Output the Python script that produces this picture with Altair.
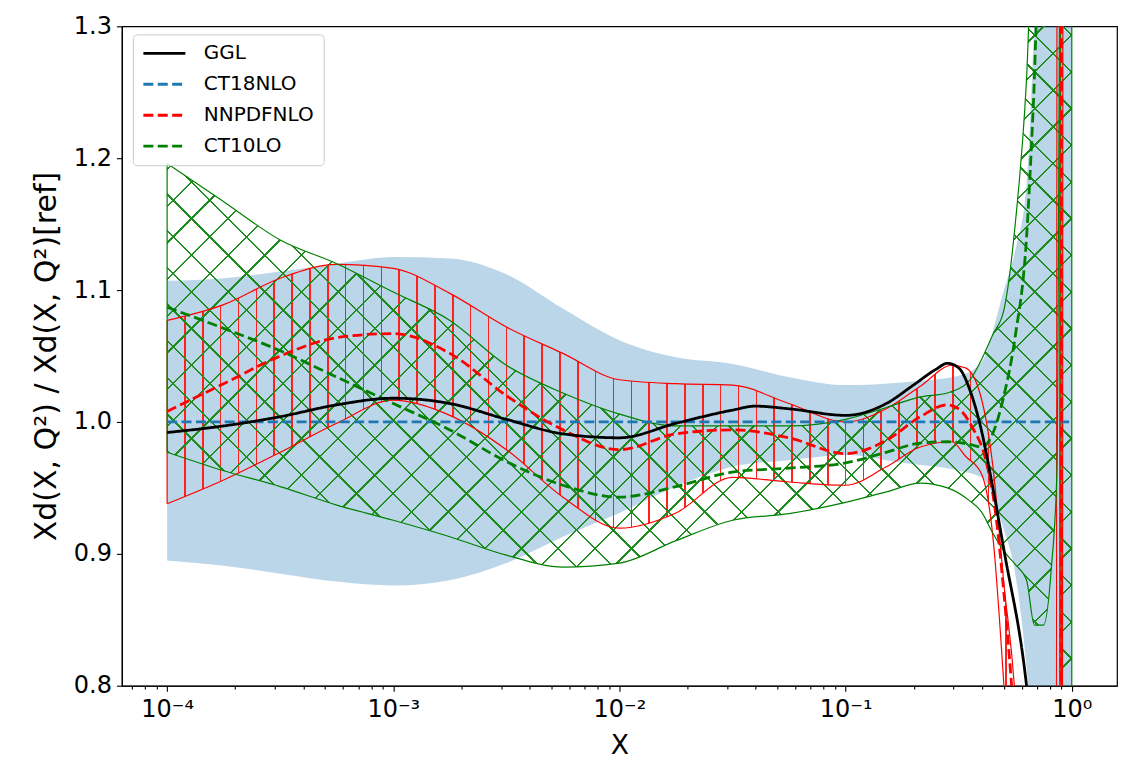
import altair as alt
import pandas as pd

# ---------------- values (x given as log10 X) ----------------
# CT18NLO uncertainty band (blue fill)
blue_lx = [-4, -3.75, -3.5, -3.25, -3, -2.75, -2.5, -2.25, -2, -1.75, -1.5, -1.25, -1,
           -0.75, -0.5, -0.4, -0.3, -0.25, -0.2, -0.15, -0.1, 0]
blue_up = [1.107, 1.109, 1.114, 1.120, 1.125, 1.124, 1.112, 1.086, 1.062, 1.049, 1.044, 1.034, 1.028,
           1.030, 1.035, 1.045, 1.10, 1.13, 1.18, 1.35, 1.40, 1.40]
blue_lo = [0.895, 0.891, 0.885, 0.879, 0.876, 0.880, 0.893, 0.913, 0.931, 0.951, 0.966, 0.971, 0.975,
           0.969, 0.963, 0.958, 0.918, 0.885, 0.814, 0.70, 0.70, 0.70]

# NNPDFNLO band (red, vertical hatch)
red_lx = [-4, -3.75, -3.5, -3.25, -3, -2.75, -2.5, -2.25, -2, -1.75, -1.5, -1.25, -1,
          -0.82, -0.67, -0.53, -0.47, -0.4, -0.35, -0.3, -0.25, -0.2, -0.1, -0.07, -0.058, -0.045, -0.033, 0]
red_up = [1.077, 1.089, 1.109, 1.1195, 1.1165, 1.0975, 1.072, 1.052, 1.032, 1.029, 1.028, 1.014, 1.000,
          1.010, 1.027, 1.043, 1.041, 1.018, 0.968, 0.877, 0.79, 0.6, 0.5, 0.5, 3.0, 3.0, 3.0, 3.0]
red_lo = [0.938, 0.956, 0.977, 0.999, 1.0165, 1.005, 0.979, 0.943, 0.9195, 0.931, 0.958, 0.9545, 0.952,
          0.966, 0.981, 0.985, 0.974, 0.961, 0.915, 0.80, 0.65, 0.5, 0.3, 0.2, 0.1, 0.0, 2.9, 2.9]

# CT10LO band (green, cross hatch)
ct10_lx = [-4, -3.75, -3.5, -3.25, -3, -2.75, -2.5, -2.25, -2, -1.75, -1.5, -1.25, -1,
           -0.82, -0.67, -0.55, -0.45, -0.4, -0.35, -0.3, -0.25, -0.2, -0.165, -0.125, -0.09, -0.065,
           -0.05, -0.045, 0]
ct10_up = [1.196, 1.167, 1.138, 1.120, 1.0985, 1.077, 1.043, 1.022, 1.006, 0.997, 0.997, 0.997, 1.002,
           1.011, 1.019, 1.022, 1.032, 1.047, 1.066, 1.085, 1.15, 1.26, 1.40, 1.40, 1.40, 1.40,
           1.40, 1.40, 1.40]
ct10_lo = [0.977, 0.963, 0.951, 0.937, 0.9255, 0.913, 0.899, 0.890, 0.893, 0.910, 0.9255, 0.9305, 0.939,
           0.947, 0.9536, 0.950, 0.940, 0.932, 0.916, 0.902, 0.892, 0.880, 0.846, 0.846, 0.890, 0.966,
           1.40, 0.714, 0.714]

# central curves
ggl_lx = [-4, -3.75, -3.5, -3.25, -3, -2.75, -2.5, -2.25, -2, -1.75, -1.5, -1.4, -1.25, -1,
          -0.82, -0.7, -0.6, -0.55, -0.5, -0.45, -0.4, -0.35, -0.3, -0.2, -0.1, 0]
ggl_y = [0.992, 0.997, 1.004, 1.013, 1.018, 1.014, 1.002, 0.991, 0.988, 0.999, 1.009, 1.012, 1.010, 1.005,
         1.014, 1.028, 1.040, 1.0445, 1.041, 1.024, 0.994, 0.951, 0.903, 0.80, 0.6, 0.5]

ct18_lx = [-4, 0]
ct18_y = [1.0, 1.0]

nn_lx = [-4, -3.75, -3.5, -3.25, -3, -2.75, -2.5, -2.25, -2, -1.75, -1.5, -1.25, -1,
         -0.82, -0.67, -0.55, -0.5, -0.44, -0.38, -0.34, -0.3, -0.25, -0.2, -0.1, -0.05, -0.04, 0]
nn_y = [1.008, 1.029, 1.050, 1.064, 1.067, 1.052, 1.020, 0.994, 0.979, 0.991, 0.994, 0.988, 0.976,
        0.986, 1.004, 1.013, 1.010, 0.996, 0.971, 0.935, 0.87, 0.76, 0.6, 0.4, 0.2, 3.0, 3.0]

ct10c_lx = [-4, -3.75, -3.5, -3.25, -3, -2.75, -2.5, -2.25, -2, -1.75, -1.5, -1.25, -1,
            -0.82, -0.67, -0.55, -0.45, -0.4, -0.35, -0.3, -0.25, -0.2, -0.17, -0.15, 0]
ct10c_y = [1.087, 1.071, 1.054, 1.034, 1.014, 0.994, 0.970, 0.952, 0.943, 0.951, 0.962, 0.965, 0.969,
           0.977, 0.984, 0.985, 0.983, 0.981, 0.991, 1.02, 1.065, 1.14, 1.24, 1.32, 1.35]

series_names = ["GGL", "CT18NLO", "NNPDFNLO", "CT10LO"]
series_colors = ["#000000", "#1f77b4", "#ff0000", "#008000"]
series_dash = [[1, 0], [10, 4.4], [10, 4.4], [10, 4.4]]

x_major = [1e-4, 1e-3, 1e-2, 1e-1, 1.0]
y_ticks = [0.8, 0.9, 1.0, 1.1, 1.2, 1.3]

# ---------------- frames ----------------
def band_df(lx, up, lo):
    return pd.DataFrame({"x": [10 ** v for v in lx], "up": up, "lo": lo})

blue_df = band_df(blue_lx, blue_up, blue_lo)
red_df = band_df(red_lx, red_up, red_lo)
green_df = band_df(ct10_lx, ct10_up, ct10_lo)

def edge_df(df):
    a = pd.DataFrame({"x": df["x"], "y": df["up"], "edge": "up"})
    b = pd.DataFrame({"x": df["x"], "y": df["lo"], "edge": "lo"})
    return pd.concat([a, b], ignore_index=True)

def ends_df(df):
    return df.iloc[[0, -1]].reset_index(drop=True)

rows = []
for name, lx, ys in [("CT18NLO", ct18_lx, ct18_y), ("NNPDFNLO", nn_lx, nn_y),
                     ("CT10LO", ct10c_lx, ct10c_y), ("GGL", ggl_lx, ggl_y)]:
    for a, b in zip(lx, ys):
        rows.append({"series": name, "x": 10 ** a, "y": b})
lines_df = pd.DataFrame(rows)

minor = [k * 10.0 ** e for e in range(-5, 0) for k in range(2, 10)]
x_tick_vals = sorted([v for v in minor if 10 ** -4.2 <= v <= 10 ** 0.2] + x_major)

# ---------------- scales / axes ----------------
FONT = "DejaVu Sans"
xscale = alt.Scale(type="log", domain=[10 ** -4.2, 10 ** 0.2], nice=False)
yscale = alt.Scale(domain=[0.8, 1.3], nice=False, zero=False)

is_major = "abs(log(datum.value)/LN10 - round(log(datum.value)/LN10)) < 0.01"
exp_expr = ("round(log(datum.value)/LN10) == -4 ? '\u207b\u2074' : "
            "round(log(datum.value)/LN10) == -3 ? '\u207b\u00b3' : "
            "round(log(datum.value)/LN10) == -2 ? '\u207b\u00b2' : "
            "round(log(datum.value)/LN10) == -1 ? '\u207b\u00b9' : '\u2070'")

xaxis = alt.Axis(values=x_tick_vals, labelExpr=f"{is_major} ? '10' + ({exp_expr}) : ''",
                 tickSize={"condition": {"test": is_major, "value": 5.5}, "value": 3.2},
                 labelOverlap=False, labelFlush=False, labelFontSize=24, labelPadding=6,
                 title="X", titleFontSize=26.7, titleFontWeight="normal",
                 titleBaseline="alphabetic", titleY=68, titleAnchor="middle")
yaxis = alt.Axis(values=y_ticks, format=".1f", tickSize=5.5, labelFontSize=24, labelPadding=5,
                 title="Xd(X, Q\u00b2) / Xd(X, Q\u00b2)[ref]", titleFontSize=30,
                 titleFontWeight="normal", titleX=-75, titleY=330, titleAngle=-90,
                 titleAlign="center", titleBaseline="middle")

X = alt.X("x:Q", scale=xscale, axis=xaxis)

def Y(field):
    return alt.Y(f"{field}:Q", scale=yscale, axis=yaxis)

# ---------------- hatch gradients ----------------
def stripes(color, clear, period, width, phase):
    stops = [{"offset": 0, "color": clear}]
    t = phase
    while t + width / 2 < 1:
        a, b = t - width / 2, t + width / 2
        if a > 0:
            stops += [{"offset": a, "color": clear}, {"offset": a, "color": color},
                      {"offset": b, "color": color}, {"offset": b, "color": clear}]
        t += period
    stops.append({"offset": 1, "color": clear})
    return stops

W = 905.45  # pixel width of the 1e-4 .. 1 span
red_grad = {"gradient": "linear", "x1": 0, "y1": 0, "x2": 1, "y2": 0,
            "stops": stripes("#ff2020", "rgba(255,0,0,0)", 17.87 / W, 1.6 / W, 17.87 / W)}
g_period = 36.7 / (2 * W)
g_width = 2.4 / (2 * W)
green_grad_a = {"gradient": "linear", "x1": 0, "y1": 0, "x2": 1, "y2": 1,
                "stops": stripes("#1f8c1f", "rgba(0,128,0,0)", g_period, g_width, g_period / 2)}
green_grad_b = {"gradient": "linear", "x1": 0, "y1": 1, "x2": 1, "y2": 0,
                "stops": stripes("#1f8c1f", "rgba(0,128,0,0)", g_period, g_width, g_period / 2)}

# ---------------- layers ----------------
blue_area = alt.Chart(blue_df).mark_area(color="#1f77b4", opacity=0.3, interpolate="monotone",
                                         clip=True).encode(x=X, y=Y("up"), y2="lo:Q")
red_area = alt.Chart(red_df).mark_area(fill=red_grad, interpolate="monotone", clip=True).encode(
    x=X, y=Y("up"), y2="lo:Q")
green_area_a = alt.Chart(green_df).mark_area(fill=green_grad_a, interpolate="monotone", clip=True).encode(
    x=X, y=Y("up"), y2="lo:Q")
green_area_b = alt.Chart(green_df).mark_area(fill=green_grad_b, interpolate="monotone", clip=True).encode(
    x=X, y=Y("up"), y2="lo:Q")

red_edges = alt.Chart(edge_df(red_df)).mark_line(color="#ff0000", strokeWidth=1.2, interpolate="monotone",
                                                 clip=True).encode(x=X, y=Y("y"), detail="edge:N")
red_ends = alt.Chart(ends_df(red_df)).mark_rule(color="#ff0000", strokeWidth=1.2, clip=True).encode(
    x=X, y=Y("up"), y2="lo:Q")
green_edges = alt.Chart(edge_df(green_df)).mark_line(color="#008000", strokeWidth=1.2,
                                                     interpolate="monotone", clip=True).encode(
    x=X, y=Y("y"), detail="edge:N")
green_ends = alt.Chart(ends_df(green_df)).mark_rule(color="#008000", strokeWidth=1.2, clip=True).encode(
    x=X, y=Y("up"), y2="lo:Q")

legend = alt.Legend(title=None, orient="none", legendX=11, legendY=8, labelFontSize=20, labelFont=FONT,
                    labelColor="#000000", symbolType="stroke", symbolSize=1764, symbolStrokeWidth=2.8,
                    clipHeight=20, rowPadding=11, padding=9, labelOffset=17,
                    fillColor="rgba(255,255,255,0.8)", strokeColor="#cccccc", cornerRadius=4)

main_lines = alt.Chart(lines_df).mark_line(strokeWidth=2.8, interpolate="monotone", clip=True).encode(
    x=X, y=Y("y"),
    color=alt.Color("series:N", scale=alt.Scale(domain=series_names, range=series_colors),
                    sort=series_names, legend=legend),
    strokeDash=alt.StrokeDash("series:N", scale=alt.Scale(domain=series_names, range=series_dash),
                              sort=series_names, legend=legend),
)

chart = alt.layer(blue_area, red_area, green_area_a, green_area_b, red_edges, red_ends,
                  green_edges, green_ends, main_lines).properties(
    width=996, height=660,
    autosize=alt.AutoSizeParams(type="none"),
    padding={"left": 114, "top": 18, "right": 10, "bottom": 80},
    background="white",
).configure_view(stroke="#000000", strokeWidth=1.2).configure_axis(
    grid=False, domainColor="#000000", tickColor="#000000", labelColor="#000000",
    titleColor="#000000", labelFont=FONT, titleFont=FONT, tickWidth=1.1, domainWidth=1.2,
).configure_legend(labelFont=FONT)

chart.save("out.html", embed_options={"renderer": "svg", "actions": False})
